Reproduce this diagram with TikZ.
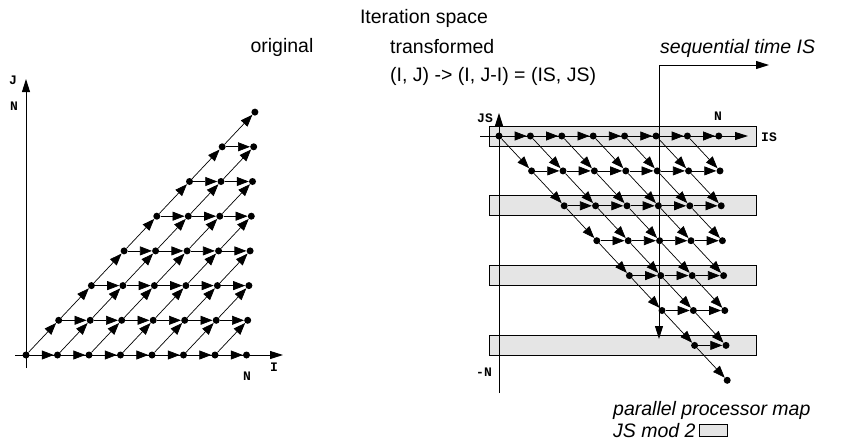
\documentclass[tikz,border=0pt]{standalone}
\usepackage{fontspec}
\setmainfont{Liberation Sans}
\newfontfamily\courfont{Liberation Mono}
\usetikzlibrary{arrows.meta}
\begin{document}
\begin{tikzpicture}[x=1pt,y=-1pt,
  dot/.style={circle,fill=black,inner sep=0pt,minimum size=7pt},
  arr/.style={-{Triangle[length=12pt,width=9pt]},line width=0.7pt},
  axis/.style={-{Triangle[length=13pt,width=8pt]},line width=0.9pt},
  band/.style={draw=black,fill=black!10,line width=0.8pt},
  lab/.style={font=\courfont\bfseries\fontsize{13}{13}\selectfont,inner sep=0pt},
  txt/.style={font=\fontsize{19.5}{22}\selectfont,inner sep=0pt},
  itxt/.style={font=\itshape\fontsize{19.5}{22}\selectfont,inner sep=0pt}
]
\path[use as bounding box] (0,0) rectangle (847,442);

% gray processor bands
\foreach \k in {0,2,4,6}{
  \path[band] ({489},{136+34.9*\k-10}) rectangle ({756},{136+34.9*\k+10});
}

% axes, left
\coordinate (Is) at (15,355);
\coordinate (Ie) at (283,355);
\coordinate (Js) at (26,368);
\coordinate (Je) at (26,79);
\draw[axis] (Is) -- (Ie);
\draw[axis] (Js) -- (Je);
% axes, right
\coordinate (ISs) at (480,136);
\coordinate (ISe) at (748,136);
\coordinate (JSs) at (499,393);
\coordinate (JSe) at (499,113);
\draw[axis] (ISs) -- (ISe);
\draw[axis] (JSs) -- (JSe);
% sequential time
\coordinate (sq) at (659,65);
\coordinate (sqd) at (659,339);
\coordinate (sqr) at (769,65);
\draw[axis] (sq) -- (sqd);
\draw[axis] (sq) -- (sqr);

% left dots
\foreach \j in {0,...,7}{
  \foreach \i in {\j,...,7}{
    \node[dot] (L-\i-\j) at ({26+31.5*\i+1.2*\j},{355-34.7*\j}) {};
  }
}
% right dots
\foreach \k in {0,...,7}{
  \foreach \i in {\k,...,7}{
    \node[dot] (R-\i-\k) at ({499+31.4*\i+1.2*\k},{136+34.9*\k}) {};
  }
}
% left edges
\foreach \j in {0,...,6}{
  \foreach \i in {\j,...,6}{
    \pgfmathtruncatemacro\ni{\i+1}
    \pgfmathtruncatemacro\nj{\j+1}
    \draw[arr] (L-\i-\j) -- (L-\ni-\j);
    \draw[arr] (L-\i-\j) -- (L-\ni-\nj);
  }
}
% right edges
\foreach \k in {0,...,6}{
  \foreach \i in {\k,...,6}{
    \pgfmathtruncatemacro\ni{\i+1}
    \pgfmathtruncatemacro\nk{\k+1}
    \draw[arr] (R-\i-\k) -- (R-\ni-\k);
    \draw[arr] (R-\i-\k) -- (R-\ni-\nk);
  }
}

% axis labels
\node[lab] (lJ) at (13,80) {J};
\node[lab] (lNl) at (14,106) {N};
\node[lab] (lNb) at (247,376) {N};
\node[lab] (lI) at (274,367) {I};
\node[lab] (lJS) at (485,118) {JS};
\node[lab] (lIS) at (769,137) {IS};
\node[lab] (lNr) at (718,116) {N};
\node[lab] (lmN) at (484,372) {-N};

% texts
\node[txt] (title) at (424,18) {Iteration space};
\node[txt] (orig) at (282,47) {original};
\node[txt,anchor=west] (trans) at (390,47) {transformed};
\node[txt,anchor=west] (mapt) at (390,76) {(I, J) -> (I, J-I) = (IS, JS)};
\node[itxt,anchor=west] (seq) at (660,48) {sequential time IS};
\node[itxt,anchor=base west] (ppm) at (613,415) {parallel processor map};
\node[itxt,anchor=base west] (jsm) at (613,437) {JS mod 2};
\node[band,anchor=south west,minimum width=28pt,minimum height=12pt,inner sep=0pt] (lgbox) at ([xshift=3pt]jsm.base east) {};
\end{tikzpicture}
\end{document}
